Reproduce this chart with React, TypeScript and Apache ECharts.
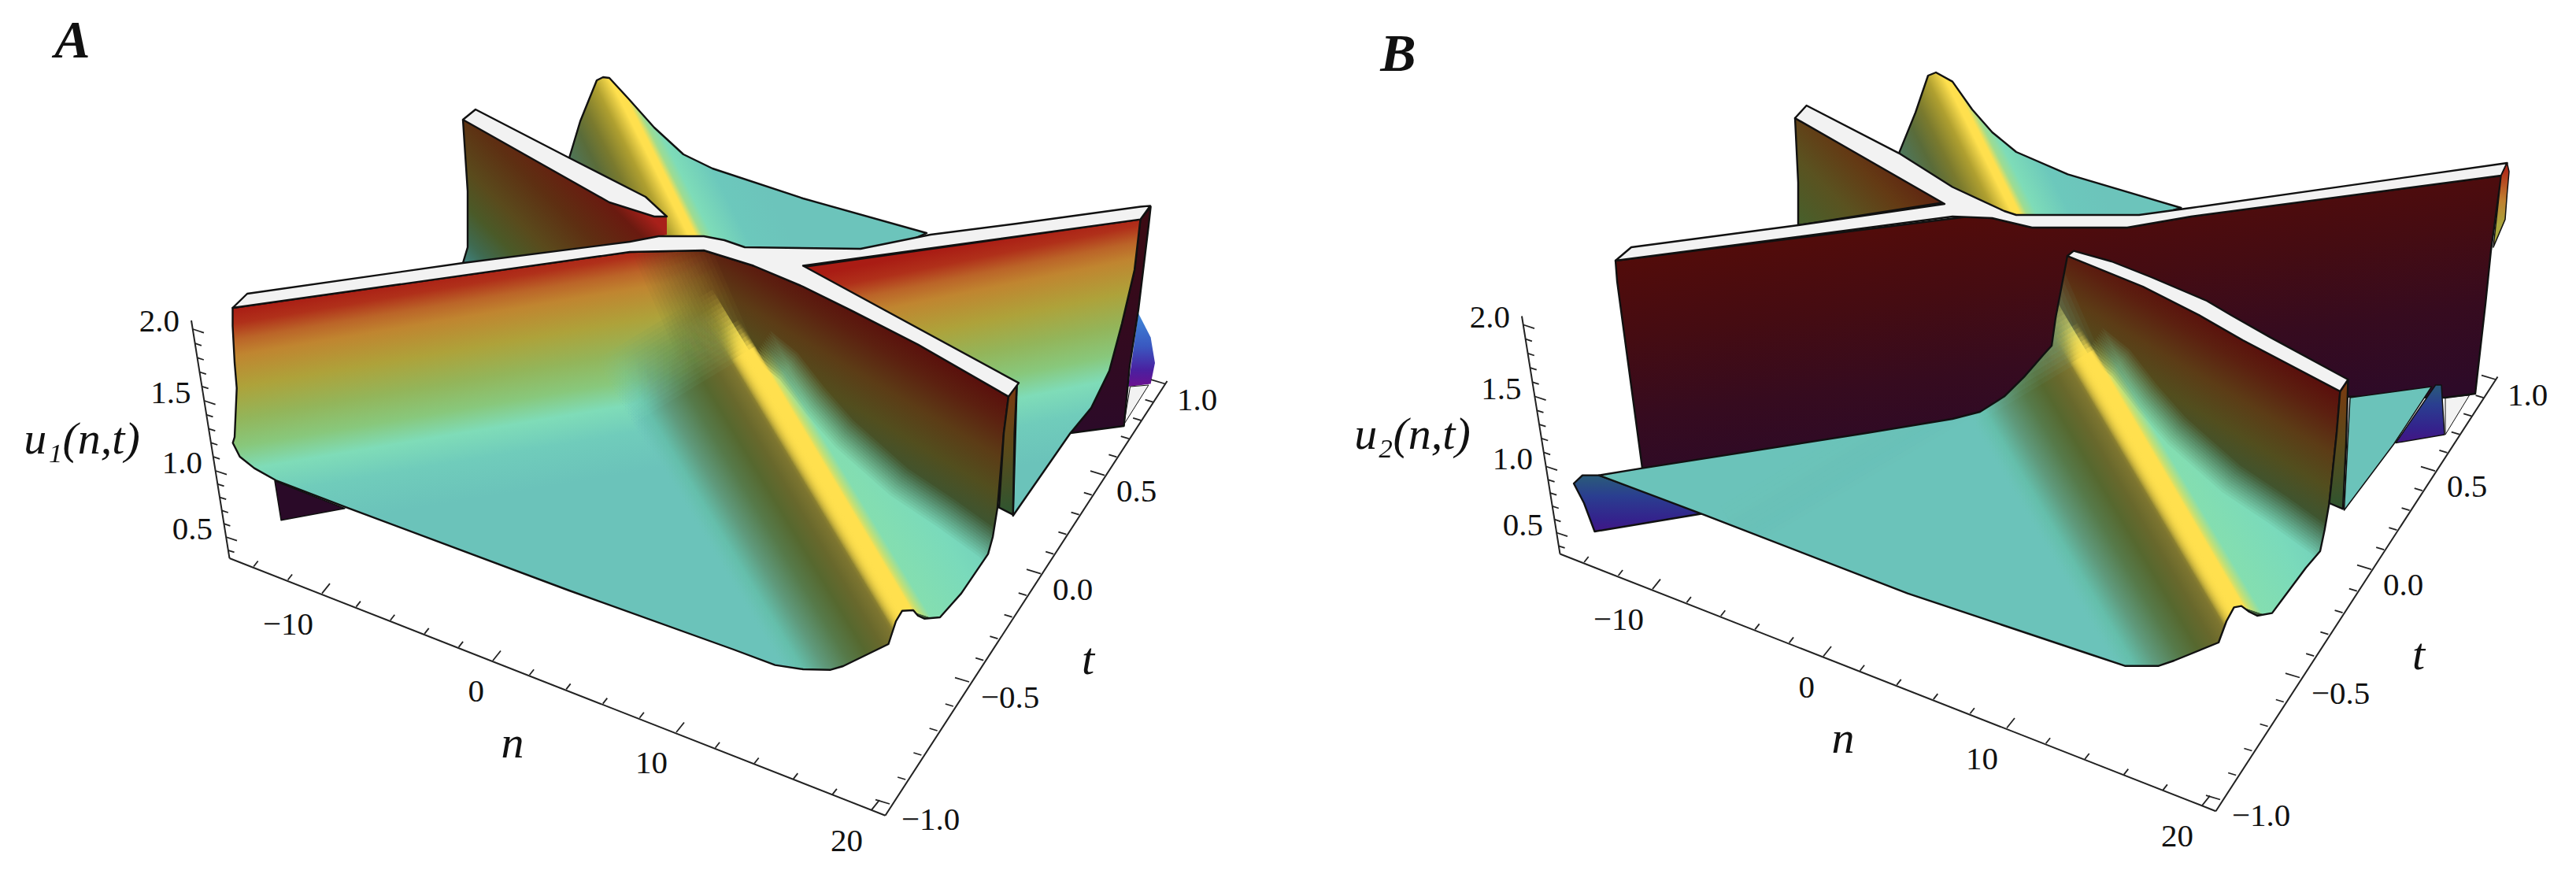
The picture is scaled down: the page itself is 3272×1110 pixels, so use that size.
import React, { useEffect, useRef } from "react";
import * as echarts from "echarts";

type Pt = number[];

// ---------- axis readings: [value, x, y] in the picture's plot space ----------
const uAxisA = [[2.0, 245, 418], [1.5, 259.6, 509], [1.0, 274, 598], [0.5, 287, 682]];
const nAxisA = [[-10, 409, 753.6], [0, 626, 839], [10, 859, 930], [20, 1107, 1028.6]];
const tAxisA = [[-1, 1130, 1021], [-0.5, 1231, 866], [0, 1322, 728.6], [0.5, 1403, 603.6], [1, 1480, 487.5]];
const uEnds = [[243, 407], [291.5, 709]];
const nEnds = [[291.5, 709], [1124.5, 1035.7]];
const tEnds = [[1124.5, 1035.7], [1482.5, 484]];
const uTicks = [2.0, 1.9, 1.8, 1.7, 1.6, 1.5, 1.4, 1.3, 1.2, 1.1, 1.0, 0.9, 0.8, 0.7, 0.6, 0.5, 0.4];
const nTicks = [-14, -12, -10, -8, -6, -4, -2, 0, 2, 4, 6, 8, 10, 12, 14, 16, 18, 20];
const tTicks = [-1, -0.9, -0.8, -0.7, -0.6, -0.5, -0.4, -0.3, -0.2, -0.1, 0, 0.1, 0.2, 0.3, 0.4, 0.5, 0.6, 0.7, 0.8, 0.9, 1];
const uLabels = [[2.0, "2.0"], [1.5, "1.5"], [1.0, "1.0"], [0.5, "0.5"]];
const nLabels = [[-10, "\u221210"], [0, "0"], [10, "10"], [20, "20"]];
const tLabels = [[-1, "\u22121.0"], [-0.5, "\u22120.5"], [0, "0.0"], [0.5, "0.5"], [1, "1.0"]];
const panelShiftB = [1690, -5.5];

// ---------- surface outlines, panel A ----------
const peakA = [[722, 204], [737, 154], [758, 102], [766, 98], [774, 99], [798, 125], [831, 162], [868, 196], [905, 214], [1020, 252], [1177, 296], [1100, 330], [800, 330], [722, 225]];
const backWingA = [[588, 152], [594, 243], [594, 314], [588, 334], [820, 304], [847, 298], [847, 275], [831, 275], [774, 257]];
const backWingEdgeA = [[588, 152], [594, 243], [594, 314], [588, 334]];
const backStripA = [[588, 152], [604, 139], [722, 200], [820, 250], [847, 275], [831, 275], [774, 257]];
const rightBlueA = [[1446, 398], [1461.6, 428.6], [1467, 461], [1461.6, 487.5], [1433, 491]];
const baseGreyA = [[1435.5, 491], [1459, 489], [1427.6, 539]];
const rightDarkA = [[1461.6, 262.5], [1448.5, 278.6], [1441, 343], [1425, 411], [1409, 471], [1386, 518], [1359.6, 550], [1427.6, 541], [1435, 464], [1446, 393], [1459, 286]];
const rightWingA = [[1020, 339], [1448.5, 278.6], [1441, 343], [1425, 411], [1409, 471], [1386, 518], [1359.6, 550], [1286.7, 655], [1291.6, 487.5]];
const frontA = [[295.5, 391], [800, 320], [894, 318], [957, 337.5], [1020, 364], [1082, 394.6], [1166, 437.5], [1281, 503.6], [1275, 550], [1267, 644.6], [1261, 682], [1255, 703.6], [1221, 753.6], [1194, 784], [1174, 785.7], [1166, 782], [1160, 775], [1146, 775.7], [1138, 789], [1128.5, 818], [1071, 846], [1055, 850.7], [1020, 850], [984.5, 844.6], [932, 825], [723, 750], [440.6, 644.6], [351.7, 610.7], [323, 594.6], [304.6, 580], [295.7, 562.5], [298, 555], [300.7, 493], [298, 460.7], [295.5, 414]];
const sideFaceA = [[1281, 503.6], [1291.6, 487.5], [1288.6, 550], [1286.7, 653.6], [1269, 644.6], [1275, 550]];
const topStripA = [[295.5, 391], [314, 373], [588, 334], [800, 307], [836.6, 300], [894, 300], [920, 305], [946, 314], [1093, 316], [1182, 298], [1291.6, 284], [1448.5, 262.5], [1461, 261.4], [1448.5, 278.6], [1020, 337.5], [1294, 486.4], [1281, 503.6], [1166, 437.5], [1082, 394.6], [1020, 364], [957, 337.5], [894, 318], [800, 320]];
const cornerDarkA = [[349, 610.7], [357, 660.7], [438, 645.7]];
const ridgeA = [[941, 428], [1148, 773]];
const wedgeEdgeA = [[978, 420], [1013, 448], [1047, 492], [1084, 534], [1153, 595], [1213, 635], [1266, 673], [1320, 730]];
const wedgeTailA = [[1320, 830], [1148, 773]];
const wallOverlayA = [[789, 290], [894, 290], [1320, 470], [1320, 900], [1056, 900]];
const fadeA = [[820, 360], [911.5, 320]];
const wallShadeA = [1166, 437];

// ---------- surface outlines, panel B ----------
const peakB = [[2412, 194.6], [2433, 143], [2449, 96], [2459, 92], [2480, 103.6], [2505, 139], [2530.5, 168], [2561, 193], [2626.5, 221.4], [2770.4, 264], [2700, 285], [2540, 285], [2470, 240]];
const backWingB = [[2280, 150], [2284, 232], [2284, 286], [2470, 257]];
const backWallB = [[2052, 331], [2500, 275], [2530.5, 277], [2581, 289], [2702, 289], [2783, 275], [3177, 223], [3164, 318], [3157, 386], [3144, 500], [3106, 505], [2985, 503.6], [2480, 560], [2086, 594.6], [2054, 357]];
const topStripB = [[2052, 331], [2072, 314], [2284, 286], [2470, 259], [2280, 150], [2294.6, 134], [2412, 194.6], [2480, 237.5], [2545.7, 268], [2561, 273], [2717, 273], [2783, 264], [3184.5, 207], [3177, 223], [2783, 275], [2702, 289], [2581, 289], [2530.5, 277], [2480, 275]];
const rightEdgeB = [[3184.5, 207], [3187, 218], [3184.5, 246], [3182, 278.6], [3167, 314], [3177, 223]];
const tealRightB = [[2985, 505], [3088.6, 491], [3040.6, 564], [2977.5, 648]];
const blueRightB = [[3093.6, 489], [3101, 489], [3105, 552], [3043, 562.5]];
const baseGreyB = [[3106, 505], [3136.6, 502], [3106, 552]];
const blueLeftB = [[1999, 614], [2010, 603.6], [2031, 603.6], [2164, 652], [2025.5, 675], [2012, 639]];
const frontB = [[2031, 603.6], [2086, 594.6], [2370.7, 550], [2480, 532], [2515, 523], [2545.7, 503.6], [2571, 478.6], [2596, 450], [2606, 439], [2611, 403.6], [2626, 325], [2722, 364], [2793, 400], [2848.7, 432], [2972.4, 497], [2968, 550], [2958.6, 639], [2952.7, 673], [2947, 700], [2929, 721], [2886, 778.6], [2867, 782], [2857, 777], [2847, 769.6], [2837.6, 771.4], [2828, 789], [2818, 816], [2761.5, 839], [2742, 845.7], [2699, 845.7], [2658, 832], [2423, 753.6], [2164, 653.6]];
const sideFaceB = [[2972.4, 497], [2982.5, 482], [2980, 564], [2976, 646.4], [2958.6, 639], [2968, 550]];
const frontStripB = [[2634, 318.6], [2682, 332], [2732.5, 352], [2803, 382], [2833.5, 400], [2884, 428.6], [2982.5, 482], [2972.4, 497], [2848.7, 432], [2793, 400], [2722, 364], [2626, 325]];
const ridgeB = [[2641.6, 432], [2839.5, 768]];
const wedgeEdgeB = [[2670, 416], [2705, 444], [2739, 488], [2776, 530], [2845, 591], [2905, 631], [2958, 669], [3012, 726]];
const wedgeTailB = [[3012, 826], [2839.5, 768]];
const wallOverlayB = [[2499, 300], [2634, 300], [3012, 466], [3012, 900], [2762, 900]];
const fadeB = [[2530, 370], [2621.5, 330]];
const wallShadeB = [2858, 433];

// ---------- colour ramps (distance along the gradient, colour) ----------
const wallRamp: [number, string][] = [[0, "#a91c14"], [20, "#b0301a"], [40, "#bb6428"], [60, "#c08530"], [100, "#aea23a"], [140, "#93b55a"], [175, "#88c87c"], [205, "#7fdcb8"], [240, "#70ccbb"], [290, "#6bc3ba"]];
const diagRamp: [number, string][] = [[0, "#5a100c"], [30, "#5c2010"], [70, "#5c3c16"], [110, "#524e1e"], [150, "#3e5530"], [175, "#3d5a38"], [260, "#3d5a38"]];
const peakRamp: [number, string][] = [[-110, "#4a7f68"], [-94, "#4f7558"], [-70, "#5a6c3a"], [-49, "#7a7a2e"], [-25, "#b0a030"], [-5, "#ffe04e"], [3, "#ffe04e"], [11, "#9fdc90"], [22, "#7edcb8"], [60, "#6cc8bc"], [110, "#6cc4bb"]];
const leftBandRamp: [number, string][] = [[-175, "rgba(108,196,187,0)"], [-150, "rgba(100,190,170,0.6)"], [-125, "#5f9a7c"], [-95, "#567a4a"], [-70, "#56682f"], [-48, "#68682c"], [-30, "#7d7530"], [-18, "#a8962f"], [-8, "#e6c840"], [-2, "#ffe04e"], [0, "#ffe04e"]];
const wedgeRamp: [number, string][] = [[0, "#ffe04e"], [6, "#ffe04e"], [14, "#bfe078"], [24, "#84deb0"], [90, "#7adabb"], [170, "#6cc8bb"]];
const coreRamp: [number, string][] = [[-26, "rgba(255,224,78,0)"], [-4, "#ffe04e"], [4, "#ffe04e"], [10, "rgba(255,224,78,0)"]];
const wingRamp: [number, string][] = [[0, "#3f7f78"], [20, "#3f6a50"], [50, "#4a5a28"], [84, "#5a4a1c"], [133, "#5e2f12"], [182, "#6a1a10"], [208, "#a8201a"]];
const wingRampB: [number, string][] = [[0, "#46602c"], [60, "#5a5220"], [110, "#643a14"], [170, "#5e1a10"]];
const redRamp: [number, string][] = [[0, "#b02a18"], [40, "#c08030"], [70, "#a9a53c"]];
const blueRamp: [number, string][] = [[0, "#2a5a7a"], [25, "#2a3e90"], [55, "#34228c"], [80, "#4a1080"]];
const darkWallRamp: [number, string][] = [[0, "#520c0a"], [100, "#450c12"], [200, "#360b1f"], [300, "#2d0a28"]];
const sideRamp: [number, string][] = [[0, "#7a3a10"], [80, "#5b4a1a"], [160, "#2f5530"]];

const INK = "#111";
const SERIF = '"Liberation Serif", "Times New Roman", serif';

function axisPoint(stops: number[][], v: number): Pt {
  const s = [...stops].sort((a, b) => a[0] - b[0]);
  let i = 0;
  while (i < s.length - 2 && v > s[i + 1][0]) i++;
  const f = (v - s[i][0]) / (s[i + 1][0] - s[i][0]);
  return [s[i][1] + f * (s[i + 1][1] - s[i][1]), s[i][2] + f * (s[i + 1][2] - s[i][2])];
}

function makePanel(api: any, cfg: any) {
  const P = (p: Pt) => api.coord(p) as Pt;
  const grad = (a: Pt, dir: Pt, ramp: [number, string][]) => {
    const d0 = ramp[0][0];
    const d1 = ramp[ramp.length - 1][0];
    const p0 = P([a[0] + dir[0] * d0, a[1] + dir[1] * d0]);
    const p1 = P([a[0] + dir[0] * d1, a[1] + dir[1] * d1]);
    return new echarts.graphic.LinearGradient(p0[0], p0[1], p1[0], p1[1],
      ramp.map(([d, color]) => ({ offset: (d - d0) / (d1 - d0), color })), true);
  };
  const poly = (pts: Pt[], fill: any, stroke: boolean | number = true, extra: any = {}) => ({
    type: "polygon",
    shape: { points: pts.map(P) },
    style: { fill, stroke: stroke ? INK : "none", lineWidth: stroke === true ? 2.4 : (stroke as number), lineJoin: "round", ...extra },
  });
  const open = (pts: Pt[]) => ({
    type: "polyline",
    shape: { points: pts.map(P) },
    style: { fill: "none", stroke: INK, lineWidth: 2.4, lineJoin: "round" },
  });
  const halfPlane = (a: Pt, u: Pt) => {
    const px = [-u[1], u[0]];
    const big = 6000;
    return {
      type: "polygon",
      shape: {
        points: [
          [a[0] + px[0] * big, a[1] + px[1] * big],
          [a[0] - px[0] * big, a[1] - px[1] * big],
          [a[0] - px[0] * big + u[0] * big, a[1] - px[1] * big + u[1] * big],
          [a[0] + px[0] * big + u[0] * big, a[1] + px[1] * big + u[1] * big],
        ].map(P),
      },
    };
  };
  const fadeStack = (pts: Pt[], fill: any, a0: Pt, a1: Pt, N: number) => {
    const len = Math.hypot(a1[0] - a0[0], a1[1] - a0[1]);
    const u = [(a1[0] - a0[0]) / len, (a1[1] - a0[1]) / len];
    const out: any[] = [];
    for (let k = 1; k <= N; k++) {
      const f = (k - 1) / N;
      const a = [a0[0] + (a1[0] - a0[0]) * f, a0[1] + (a1[1] - a0[1]) * f];
      out.push({ ...poly(pts, fill, false, { opacity: 1 / (N - k + 1) }), clipPath: halfPlane(a, u) });
    }
    return out;
  };

  const [r0, r1] = cfg.ridge as Pt[];
  const rl = Math.hypot(r1[0] - r0[0], r1[1] - r0[1]);
  const ru = [(r1[0] - r0[0]) / rl, (r1[1] - r0[1]) / rl];
  const rn = [ru[1], -ru[0]]; // towards the right of the ridge
  const at = (s: number, d: number): Pt => [r0[0] + ru[0] * s + rn[0] * d, r0[1] + ru[1] * s + rn[1] * d];

  const leftBand = [at(-80, 0), at(rl + 40, 0), at(rl + 40, -175), at(-80, -175)];
  const restore = [at(-60, 0), at(rl + 40, 0), at(rl + 40, -500), at(-60, -500)];
  const core = [at(-30, -26), at(rl + 30, -26), at(rl + 30, 10), at(-30, 10)];

  const diagDir = [-0.51, 0.86];
  const diagFill = grad(cfg.wallShade, diagDir, diagRamp);

  const wedgeLayers: any[] = [];
  const W = 44;
  const N = 14;
  const wedgeFill = grad(r0, rn, wedgeRamp);
  for (let k = 1; k <= N; k++) {
    const s = (W * (k - 1)) / N;
    const edge = cfg.wedgeEdge.map((p: Pt) => [p[0] - 0.55 * s, p[1] + 0.83 * s]);
    wedgeLayers.push(poly([...edge, ...cfg.wedgeTail], wedgeFill, false, { opacity: 1 / (N - k + 1) }));
  }

  const baseFill = cfg.baseFill(grad);
  const surfaceLayers = [
    poly(cfg.pad, baseFill, false),
    ...fadeStack(cfg.wallOverlay, diagFill, cfg.fade[0], cfg.fade[1], 18),
    ...fadeStack(restore, baseFill, at(-50, 0), at(20, 0), 12),
    ...fadeStack(leftBand, grad(r0, rn, leftBandRamp), at(-70, 0), at(30, 0), 16),
    ...wedgeLayers,
    ...fadeStack(core, grad(r0, rn, coreRamp), at(-20, 0), at(25, 0), 8),
  ];

  const front = {
    type: "group",
    clipPath: { type: "polygon", shape: { points: cfg.front.map(P) } },
    children: surfaceLayers,
  };

  const off = cfg.axisShift as Pt;
  const sh = (p: Pt): Pt => [p[0] + off[0], p[1] + off[1]];
  const line = (a: Pt, b: Pt, w: number) => {
    const A = P(a), B = P(b);
    return { type: "line", shape: { x1: A[0], y1: A[1], x2: B[0], y2: B[1] }, style: { stroke: "#222", lineWidth: w } };
  };
  const text = (str: string, p: Pt, font: string, align = "center", va = "middle") => {
    const q = P(p);
    return { type: "text", x: q[0], y: q[1], style: { text: str, font, fill: INK, align, verticalAlign: va } };
  };
  const ticks: any[] = [];
  const tickFont = `41px ${SERIF}`;
  uTicks.forEach((v, i) => {
    const p = sh(axisPoint(uAxisA, v));
    const major = i % 5 === 0;
    ticks.push(line(p, [p[0] + (major ? 14 : 8), p[1] + (major ? 4.6 : 2.6)], 1.8));
  });
  nTicks.forEach((v) => {
    const p = sh(axisPoint(nAxisA, v));
    const major = v % 10 === 0;
    ticks.push(line(p, [p[0] + (major ? 10 : 5.5), p[1] - (major ? 12.5 : 7)], 1.8));
  });
  tTicks.forEach((v, i) => {
    const p = sh(axisPoint(tAxisA, v));
    const major = i % 5 === 0;
    ticks.push(line(p, [p[0] - (major ? 18 : 10), p[1] - (major ? 5.4 : 3)], 1.8));
  });
  const labels: any[] = [];
  uLabels.forEach(([v, s]) => {
    const p = sh(axisPoint(uAxisA, v as number));
    labels.push(text(s as string, [p[0] - 17, p[1] - 11], tickFont, "right"));
  });
  nLabels.forEach(([v, s]) => {
    const p = sh(axisPoint(nAxisA, v as number));
    labels.push(text(s as string, [p[0] - 11, p[1] + 38], tickFont, "right"));
  });
  tLabels.forEach(([v, s]) => {
    const p = sh(axisPoint(tAxisA, v as number));
    labels.push(text(s as string, [p[0] + 15, p[1] + 19], tickFont, "left"));
  });
  labels.push(text("n", sh([651, 942]), `italic 58px ${SERIF}`));
  labels.push(text("t", sh([1382, 836]), `italic 58px ${SERIF}`));
  labels.push(text(cfg.uTitle, sh([104, 556]), `italic 58px ${SERIF}`));
  labels.push(text(cfg.letter, cfg.letterAt, `italic bold 68px ${SERIF}`));

  const axes = [line(sh(uEnds[0]), sh(uEnds[1]), 2), line(sh(nEnds[0]), sh(nEnds[1]), 2), line(sh(tEnds[0]), sh(tEnds[1]), 2), ...ticks];

  return { type: "group", children: [...cfg.back(poly, grad, open), ...axes, ...cfg.mid(poly, grad), front, poly(cfg.front, "none"), ...cfg.top(poly, grad), ...labels] };
}

const peakDir = [0.893, -0.45];
const wallDir = [0.165, 0.986];

const panelA = {
  letter: "A",
  letterAt: [92, 50],
  uTitle: "u\u2081(n,t)",
  axisShift: [0, 0],
  ridge: ridgeA,
  wedgeEdge: wedgeEdgeA,
  wedgeTail: wedgeTailA,
  wallOverlay: wallOverlayA,
  fade: fadeA,
  wallShade: wallShadeA,
  front: frontA,
  pad: [[200, 250], [1400, 250], [1400, 900], [200, 900]],
  baseFill: (grad: any) => grad([295.5, 391], wallDir, wallRamp),
  back: (poly: any, grad: any, open: any) => [
    poly(peakA, grad([795, 130], peakDir, peakRamp)),
    poly(backWingA, grad([590, 330], [0.7, -0.7], wingRamp), false),
    open(backWingEdgeA),
    poly(backStripA, "#f2f2f2"),
    poly(rightBlueA, grad([1450, 400], [0, 1], [[0, "#3f86d8"], [40, "#3a58c0"], [70, "#4a20a0"], [90, "#6a1090"]]), false),
    poly(baseGreyA, "#f2f2f2", 1),
  ],
  mid: (poly: any, grad: any) => [
    poly(rightDarkA, grad([1460, 262], [0, 1], [[0, "#3c0a12"], [280, "#2c0a28"]])),
    poly(rightWingA, grad([1234, 309], [0.196, 0.98], wallRamp)),
    poly(cornerDarkA, "#2a0a28", 1.5),
  ],
  top: (poly: any, grad: any) => [
    poly(sideFaceA, grad([1285, 490], [0, 1], sideRamp)),
    poly(topStripA, "#f2f2f2"),
  ],
};

const panelB = {
  letter: "B",
  letterAt: [1776, 67],
  uTitle: "u\u2082(n,t)",
  axisShift: panelShiftB,
  ridge: ridgeB,
  wedgeEdge: wedgeEdgeB,
  wedgeTail: wedgeTailB,
  wallOverlay: wallOverlayB,
  fade: fadeB,
  wallShade: wallShadeB,
  front: frontB,
  pad: [[1950, 250], [3100, 250], [3100, 900], [1950, 900]],
  baseFill: () => "#6bc3ba",
  back: (poly: any, grad: any) => [
    poly(peakB, grad([2488, 124], peakDir, peakRamp)),
    poly(backWingB, grad([2284, 286], [0.7, -0.7], wingRampB)),
    poly(baseGreyB, "#f2f2f2", 1),
  ],
  mid: (poly: any, grad: any) => [
    poly(backWallB, grad([2052, 331], [0.13, 0.99], darkWallRamp)),
    poly(topStripB, "#f2f2f2"),
    poly(rightEdgeB, grad([3180, 215], [0, 1], redRamp), 1.5),
    poly(tealRightB, "#6bc3ba", 1.5),
    poly(blueRightB, grad([3095, 489], [0, 1], blueRamp), 1.5),
    poly(blueLeftB, grad([2010, 605], [0, 1], blueRamp), true),
  ],
  top: (poly: any, grad: any) => [
    poly(sideFaceB, grad([2975, 485], [0, 1], sideRamp)),
    poly(frontStripB, "#f2f2f2"),
  ],
};

export default function App() {
  const ref = useRef<HTMLDivElement>(null);
  useEffect(() => {
    const chart = echarts.init(ref.current!, null, { renderer: "svg" });
    const series = (name: string, cfg: any) => ({
      type: "custom",
      name,
      coordinateSystem: "cartesian2d",
      clip: false,
      silent: true,
      data: [[0, 0]],
      renderItem: (_p: any, api: any) => makePanel(api, cfg),
    });
    chart.setOption({
      animation: false,
      backgroundColor: "#ffffff",
      grid: { left: 0, right: 0, top: 0, bottom: 0 },
      xAxis: { type: "value", min: 0, max: 3272, show: false },
      yAxis: { type: "value", min: 0, max: 1110, inverse: true, show: false },
      series: [series("u1(n,t)", panelA), series("u2(n,t)", panelB)],
    });
    return () => chart.dispose();
  }, []);
  return <div ref={ref} style={{ position: "absolute", left: 0, top: 0, width: 3272, height: 1110 }} />;
}
